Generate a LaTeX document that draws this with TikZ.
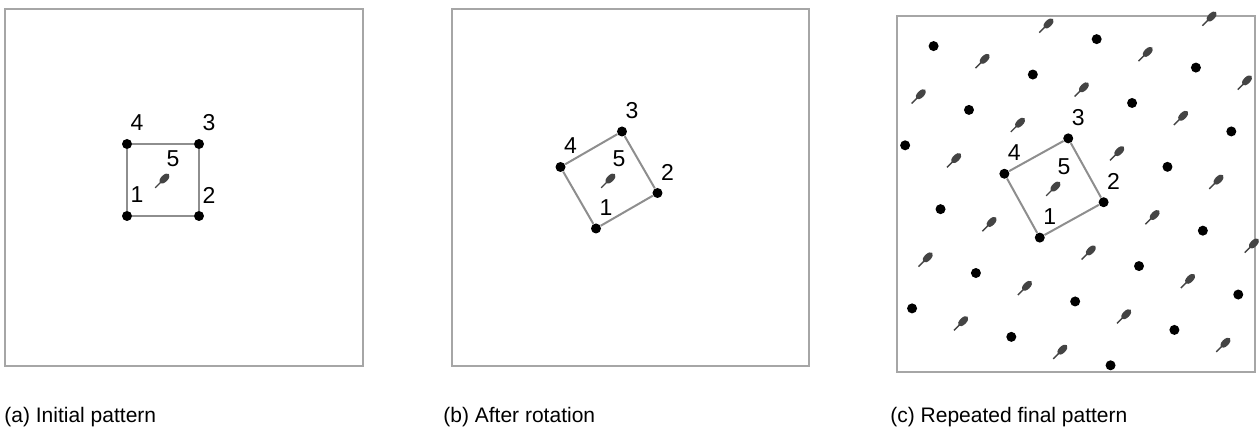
\documentclass[tikz,border=0pt]{standalone}
\usepackage{fontspec}
\setmainfont{Liberation Sans}
\usetikzlibrary{calc}
\definecolor{rahmengrau}{HTML}{A6A6A6}
\definecolor{kantengrau}{HTML}{8E8E8E}
\definecolor{kerngrau}{HTML}{444444}
\tikzset{
  feld/.style={draw=rahmengrau,line width=1pt},
  kante/.style={draw=kantengrau,line width=1pt},
  punkt/.style={circle,fill=black,inner sep=0pt,minimum size=5pt},
  nr/.style={inner sep=0pt,font=\fontsize{11.5}{13}\selectfont},
  titel/.style={anchor=base west,inner sep=0pt,font=\fontsize{10.5}{12}\selectfont},
  kern/.pic={
    \fill[kerngrau,rotate=45] (1pt,0) ellipse (3.2pt and 1.7pt);
    \draw[kerngrau,line width=0.7pt,rotate=45] (-1.8pt,0) -- (-5.5pt,0);
  },
}
\newcommand{\motiv}[1]{%
  \node[punkt] (#1-1) at (-0.5,-0.5) {};
  \node[punkt] (#1-2) at (0.5,-0.5) {};
  \node[punkt] (#1-3) at (0.5,0.5) {};
  \node[punkt] (#1-4) at (-0.5,0.5) {};
  \coordinate (#1-5) at (0,0);
  \draw[kante] (#1-1) -- (#1-2) -- (#1-3) -- (#1-4) -- (#1-1);
  \pic at (#1-5) {kern};
  \foreach \k in {1,...,5}
    \node[nr] (#1-n\k) at ([shift={(5pt,10.5pt)}]#1-\k) {\k};
}

\begin{document}
\begin{tikzpicture}[x=0.5pt,y=0.5pt]
  \useasboundingbox (0,0) rectangle (1260,-431);
  \draw[feld] (5,-9) rectangle (363,-366);
  \draw[feld] (452,-9) rectangle (809,-366);
  \draw[feld] (897,-16) rectangle (1255,-372);

  \begin{scope}[shift={(163,-180)},x=36pt,y=36pt]
    \motiv{a}
  \end{scope}

  \begin{scope}[shift={(609,-180)},x={(30:35.5pt)},y={(120:35.5pt)}]
    \motiv{b}
  \end{scope}

  \begin{scope}[shift={(1054,-188)},x={(29:36.5pt)},y={(119:36.5pt)}]
    \foreach \i/\j in {1/2,3/1,0/2,2/1,-1/2,1/1,3/0,0/1,2/0,-1/1,1/0,2/-1,-1/0,
                       1/-1,2/-2,-2/0,0/-1,1/-2,-1/-1,-2/-1,0/-2,-1/-2,1/-3}
      \pic at (\i,\j) {kern};
    \foreach \i/\j in {0/3,2/2,1/2,3/1,0/2,2/1,-1/2,3/0,2/0,-1/1,2/-1,-1/0,
                       1/-1,-2/0,2/-2,0/-1,-1/-1,1/-2,0/-2}
      \node[punkt] (c\i\j) at (\i-0.5,\j-0.5) {};
    \motiv{c}
  \end{scope}

  \node[titel] (ta) at (4,-423) {(a) Initial pattern};
  \node[titel] (tb) at (443,-423) {(b) After rotation};
  \node[titel] (tc) at (890,-423) {(c) Repeated final pattern};
\end{tikzpicture}
\end{document}
